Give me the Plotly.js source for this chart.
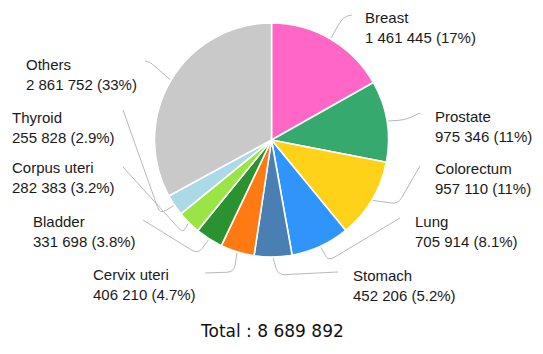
<!DOCTYPE html>
<html>
<head>
<meta charset="utf-8">
<script src="https://cdn.plot.ly/plotly-3.0.1.min.js"></script>
<style>html,body{margin:0;padding:0;background:#fff;}#chart{width:543px;height:354px;}</style>
</head>
<body>
<div id="chart"></div>
<script>
// ---- data ----
const categories = ["Breast", "Prostate", "Colorectum", "Lung", "Stomach", "Cervix uteri", "Bladder", "Corpus uteri", "Thyroid", "Others"];
const cases = [1461445, 975346, 957110, 705914, 452206, 406210, 331698, 282383, 255828, 2861752];
const colors = ["#ff66c6", "#35a96e", "#ffd21a", "#2f95fb", "#4a7fb4", "#ff7a12", "#2b9232", "#9be446", "#acd9e8", "#c9c9c9"];

// ---- layout constants (pixels) ----
const W = 543, H = 354;
const M = {l: 0, r: 0, t: 23, b: 97};
const plotW = W - M.l - M.r, plotH = H - M.t - M.b;
const CX = M.l + plotW / 2, CY = M.t + plotH / 2, R = Math.min(plotW, plotH) / 2;

// label text positions: left x, vertical middle y
const labelPos = [[363, 27.5], [433, 126], [433, 178], [413, 231], [351, 285], [91, 284], [31, 231.5], [10, 177.5], [10, 127], [24, 74]];
// leader lines: elbow and end points
const elbows = [[343, 17], [405, 120], [398, 204], [328, 261], [278, 275], [234, 272], [198, 254], [183, 233], [160, 214], [150, 62]];
const ends = [[352, 15], [420, 113], [420, 166], [400, 218], [338, 272], [205, 273], [143, 220], [123, 167], [123, 110], [145, 61]];

const total = cases.reduce((a, b) => a + b, 0);
const fmt = n => String(n).replace(/\B(?=(\d{3})+(?!\d))/g, " ");

const px = x => (x - M.l) / plotW;
const py = y => 1 - (y - M.t) / plotH;

const annotations = [];
const shapes = [];
let cum = 0;
categories.forEach((c, i) => {
  const frac = cases[i] / total;
  const mid = (cum + frac / 2) * 2 * Math.PI;
  cum += frac;
  const p0 = [CX + (R + 1) * Math.sin(mid), CY - (R + 1) * Math.cos(mid)];
  const e = elbows[i], p3 = ends[i];
  const rr = 7;
  const d0 = Math.hypot(p0[0] - e[0], p0[1] - e[1]);
  const d3 = Math.hypot(p3[0] - e[0], p3[1] - e[1]);
  const k0 = Math.min(rr / d0, 0.5), k3 = Math.min(rr / d3, 0.5);
  const a = [e[0] + (p0[0] - e[0]) * k0, e[1] + (p0[1] - e[1]) * k0];
  const b = [e[0] + (p3[0] - e[0]) * k3, e[1] + (p3[1] - e[1]) * k3];
  const P = p => px(p[0]).toFixed(5) + "," + py(p[1]).toFixed(5);
  shapes.push({
    type: "path", xref: "paper", yref: "paper",
    path: "M" + P(p0) + " L" + P(a) + " Q" + P(e) + " " + P(b) + " L" + P(p3),
    line: {color: "#b9b9b9", width: 1}
  });
  const pct = (frac * 100).toPrecision(2);
  annotations.push({
    xref: "paper", yref: "paper",
    x: px(labelPos[i][0]), y: py(labelPos[i][1]),
    xanchor: "left", yanchor: "middle", align: "left",
    text: c + "<br>" + fmt(cases[i]) + " (" + pct + "%)",
    showarrow: false,
    font: {family: "Liberation Sans, Arial, sans-serif", size: 15, color: "#1a1a1a"}
  });
});

annotations.push({
  xref: "paper", yref: "paper",
  x: px(272), y: py(331), xanchor: "center", yanchor: "middle",
  text: "Total : " + fmt(total), showarrow: false,
  font: {family: "DejaVu Sans, sans-serif", size: 17, color: "#111"}
});

const trace = {
  type: "pie",
  labels: categories,
  values: cases,
  sort: false,
  direction: "clockwise",
  rotation: 0,
  textinfo: "none",
  hoverinfo: "none",
  marker: {colors: colors, line: {color: "#ffffff", width: 1.6}},
  domain: {x: [0, 1], y: [0, 1]}
};

Plotly.newPlot("chart", [trace], {
  width: W, height: H,
  margin: M,
  showlegend: false,
  paper_bgcolor: "#ffffff",
  annotations: annotations,
  shapes: shapes
}, {staticPlot: true});
</script>
</body>
</html>
